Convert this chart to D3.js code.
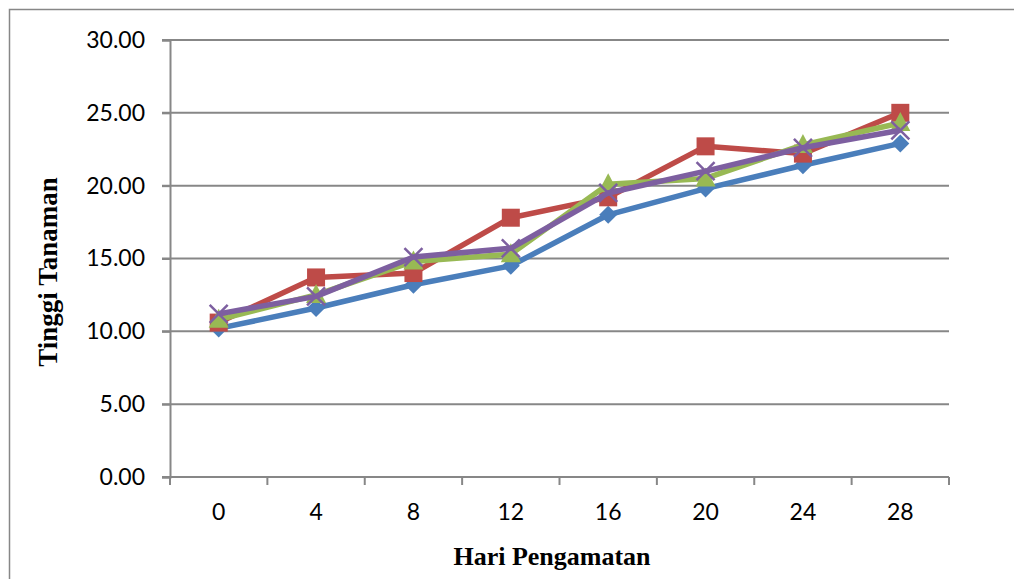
<!DOCTYPE html>
<html>
<head>
<meta charset="utf-8">
<script src="https://cdn.jsdelivr.net/npm/d3@7"></script>
<style>
  body { margin: 0; background: #fff; }
  svg { display: block; }
</style>
</head>
<body>
<div id="root"></div>
<script>
// days of observation
const days = ["0", "4", "8", "12", "16", "20", "24", "28"]
const y_ticks = [0, 5, 10, 15, 20, 25, 30]

const blue_values   = [10.2, 11.6, 13.2, 14.5, 18.0, 19.8, 21.4, 22.9]
const red_values    = [10.6, 13.7, 14.0, 17.8, 19.2, 22.7, 22.2, 25.0]
const green_values  = [10.8, 12.5, 14.8, 15.3, 20.1, 20.5, 22.8, 24.3]
const purple_values = [11.2, 12.4, 15.1, 15.7, 19.5, 21.0, 22.6, 23.8]

const series = [
  {values: blue_values,   color: "#4a7ebb", marker: "diamond"},
  {values: red_values,    color: "#be4b48", marker: "square"},
  {values: green_values,  color: "#98b954", marker: "triangle"},
  {values: purple_values, color: "#7d5fa0", marker: "cross"}
]

const W = 1014, H = 579
const margin = {top: 40, right: 65, bottom: 102, left: 170}
const width = W - margin.left - margin.right
const height = H - margin.top - margin.bottom
const grey = "#878787"

const svg = d3.select("#root").append("svg")
  .attr("width", W).attr("height", H)

// outer chart border (only top/left visible in the reference)
svg.append("rect")
  .attr("x", 9.5).attr("y", 9.5)
  .attr("width", 1010).attr("height", 600)
  .attr("fill", "none").attr("stroke", grey).attr("stroke-width", 1.5)

const g = svg.append("g")
  .attr("transform", "translate(" + margin.left + "," + margin.top + ")")

const x_scale = d3.scaleBand().domain(days).range([0, width])
const y_scale = d3.scaleLinear().domain([0, 30]).range([height, 0])

// gridlines
g.append("g").selectAll("line").data(y_ticks).enter().append("line")
  .attr("x1", -8).attr("x2", width)
  .attr("y1", d => y_scale(d)).attr("y2", d => y_scale(d))
  .attr("stroke", grey).attr("stroke-width", 2)

// y axis
const y_axis = g.append("g")
  .call(d3.axisLeft(y_scale).tickValues(y_ticks).tickSize(8).tickPadding(17).tickFormat(d3.format(".2f")))
y_axis.select(".domain").attr("stroke", grey).attr("stroke-width", 2)
y_axis.selectAll(".tick line").attr("stroke", grey).attr("stroke-width", 2)
y_axis.selectAll("text")
  .style("font-family", "Lato, 'Open Sans', sans-serif").style("font-size", "23px").attr("fill", "#000")

// x axis with ticks at category boundaries
const x_axis = g.append("g").attr("transform", "translate(0," + height + ")")
x_axis.append("line").attr("x1", 0).attr("x2", width)
  .attr("stroke", grey).attr("stroke-width", 2)
const boundaries = days.map(d => x_scale(d)).concat([width])
x_axis.selectAll(".bt").data(boundaries).enter().append("line")
  .attr("x1", d => d).attr("x2", d => d).attr("y1", 0).attr("y2", 8)
  .attr("stroke", grey).attr("stroke-width", 2)
x_axis.selectAll("text").data(days).enter().append("text")
  .attr("x", d => x_scale(d) + x_scale.bandwidth() / 2)
  .attr("y", 43)
  .attr("text-anchor", "middle")
  .style("font-family", "Lato, 'Open Sans', sans-serif").style("font-size", "23px")
  .text(d => d)

const cx = (d, i) => x_scale(days[i]) + x_scale.bandwidth() / 2
const line_gen = d3.line().x(cx).y(d => y_scale(d))

for (const s of series) {
  const sg = g.append("g")
  sg.append("path").datum(s.values)
    .attr("d", line_gen).attr("fill", "none")
    .attr("stroke", s.color).attr("stroke-width", 5.5).attr("stroke-linejoin", "round")

  const pts = sg.selectAll(".pt").data(s.values).enter().append("g")
    .attr("transform", (d, i) => "translate(" + cx(d, i) + "," + y_scale(d) + ")")

  if (s.marker == "diamond") {
    pts.append("path").attr("d", "M0,-9L9,0L0,9L-9,0Z").attr("fill", s.color)
  } else if (s.marker == "square") {
    pts.append("rect").attr("x", -9).attr("y", -9).attr("width", 18).attr("height", 18)
      .attr("fill", s.color)
  } else if (s.marker == "triangle") {
    pts.append("path").attr("d", "M0,-11L10,8L-10,8Z").attr("fill", s.color)
  } else {
    pts.append("path").attr("d", "M-9,-9L9,9M9,-9L-9,9")
      .attr("stroke", s.color).attr("stroke-width", 2.5)
  }
}

// axis titles
svg.append("text")
  .attr("transform", "translate(57,272) rotate(-90)")
  .attr("text-anchor", "middle")
  .style("font-family", "'Liberation Serif', 'Times New Roman', serif")
  .style("font-weight", "bold").style("font-size", "27px")
  .text("Tinggi Tanaman")

svg.append("text")
  .attr("x", 552).attr("y", 565)
  .attr("text-anchor", "middle")
  .style("font-family", "'Liberation Serif', 'Times New Roman', serif")
  .style("font-weight", "bold").style("font-size", "26px")
  .text("Hari Pengamatan")
</script>
</body>
</html>
